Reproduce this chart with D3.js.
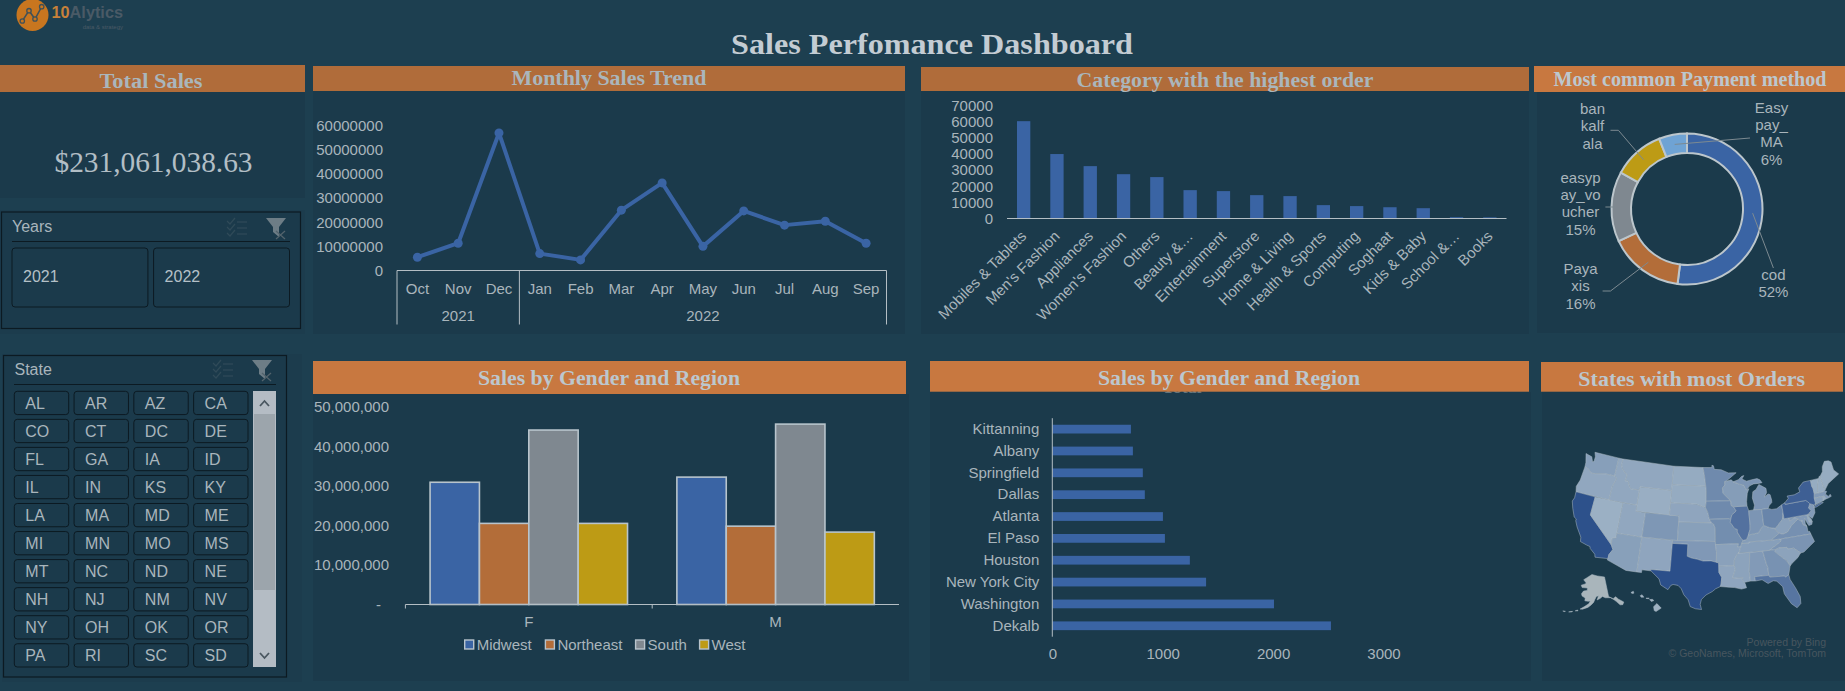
<!DOCTYPE html>
<html lang="en">
<head>
<meta charset="utf-8">
<title>Sales Perfomance Dashboard</title>
<script src="https://d3js.org/d3.v7.min.js"></script>
<style>
  html, body { margin: 0; padding: 0; background: #1d3f50; overflow: hidden; }
  svg { display: block; }
  text { font-family: "Liberation Sans", Arial, sans-serif; font-size: 15px; fill: #a9b5bc; }
  .serif { font-family: "Liberation Serif", Georgia, serif; }
  .domain { stroke: #b4bec4; }
</style>
</head>
<body>
<script>
// monthly sales
const months = ["Oct","Nov","Dec","Jan","Feb","Mar","Apr","May","Jun","Jul","Aug","Sep"];
const monthlySales = [5500000,11300000,57000000,7000000,4400000,25000000,36300000,10000000,24700000,18800000,20400000,11300000];

// category orders
const categories = ["Mobiles & Tablets","Men's Fashion","Appliances","Women's Fashion","Others","Beauty &…","Entertainment","Superstore","Home & Living","Health & Sports","Computing","Soghaat","Kids & Baby","School &…","Books"];
const categoryOrders = [60400,40000,32500,27500,25700,17600,17000,14500,13900,8300,7700,7000,6400,800,700];

// payment methods
const payLabels = [["cod","52%"],["Paya","xis","16%"],["easyp","ay_vo","ucher","15%"],["ban","kalf","ala"],["Easy","pay_","MA","6%"]];
const payShare = [52,16,15,11,6];
const payColors = ["#3a64a4","#b36d39","#7f8890","#bd9b15","#6fa3d4"];

// gender and region
const genders = ["F","M"];
const regions = ["Midwest","Northeast","South","West"];
const regionColors = ["#3a64a4","#b36d39","#7f8890","#bd9b15"];
const salesF = [30900000,20500000,44100000,20500000];
const salesM = [32200000,19800000,45600000,18300000];

// cities
const cities = ["Kittanning","Albany","Springfield","Dallas","Atlanta","El Paso","Houston","New York City","Washington","Dekalb"];
const cityOrders = [712,730,820,838,1002,1020,1246,1393,2008,2524];

// slicers
const years = ["2021","2022"];
const stateButtons = ["AL","AR","AZ","CA","CO","CT","DC","DE","FL","GA","IA","ID","IL","IN","KS","KY","LA","MA","MD","ME","MI","MN","MO","MS","MT","NC","ND","NE","NH","NJ","NM","NV","NY","OH","OK","OR","PA","RI","SC","SD"];

// map: order level per state and rough lon/lat outlines
const mapStates = ["WA","OR","CA","NV","ID","MT","WY","UT","CO","AZ","NM","ND","SD","NE","KS","OK","TX","MN","IA","MO","AR","LA","MS","AL","TN","KY","IL","WI","MI","IN","OH","WV","VA","MD","DC","DE","NJ","PA","NY","VT","NH","ME","MA","RI","CT","NC","SC","GA","FL","AK","HI"];
const mapOrders = [26,18,98,10,18,18,12,18,33,25,20,15,15,20,25,32,100,45,45,42,24,20,22,30,26,28,68,28,35,35,50,24,40,30,15,16,30,82,85,14,14,14,30,14,25,36,22,38,65,0,8];
const mapRings = [
  [[[-124.7,48.4],[-123.2,48.15],[-122.7,47.4],[-122.4,47.5],[-122.4,48.3],[-122.8,49],[-117.03,49],[-117.04,46],[-118.98,46],[-121.2,45.65],[-122.3,45.55],[-122.8,45.9],[-123.4,46.2],[-124,46.25],[-124.1,47]]],
  [[[-124,46.25],[-123.4,46.2],[-122.8,45.9],[-122.3,45.55],[-121.2,45.65],[-118.98,46],[-117.04,46],[-116.92,45.99],[-116.46,45.6],[-117,44.3],[-117.03,42],[-124.2,42],[-124.5,42.85],[-124.1,44]]],
  [[[-124.2,42],[-120,42],[-120,39],[-114.63,35],[-114.15,34.3],[-114.7,33.4],[-114.72,32.72],[-117.12,32.53],[-117.3,33],[-118.4,33.75],[-118.5,34.03],[-119.2,34.15],[-120.5,34.45],[-120.65,35.15],[-121.9,36.6],[-122.5,37.5],[-122.5,37.8],[-123,38],[-123.8,39.3],[-124.35,40.4],[-124.1,41]]],
  [[[-120,42],[-114.04,42],[-114.04,36.2],[-114.75,36.1],[-114.63,35],[-120,39]]],
  [[[-117.03,49],[-116.05,49],[-116.05,48],[-115.7,47.45],[-114.7,46.7],[-114.35,46.65],[-114.5,45.55],[-113.9,45.65],[-113.45,44.95],[-113,44.45],[-111.05,44.48],[-111.05,42],[-117.03,42],[-117,44.3],[-116.46,45.6],[-116.92,45.99],[-117.04,46]]],
  [[[-116.05,49],[-104.05,49],[-104.05,45],[-111.05,45],[-111.05,44.48],[-113,44.45],[-113.45,44.95],[-113.9,45.65],[-114.5,45.55],[-114.35,46.65],[-114.7,46.7],[-115.7,47.45],[-116.05,48]]],
  [[[-111.05,45],[-104.05,45],[-104.05,41],[-111.05,41]]],
  [[[-114.04,42],[-111.05,42],[-111.05,41],[-109.05,41],[-109.05,37],[-114.04,37]]],
  [[[-109.05,41],[-102.05,41],[-102.05,37],[-109.05,37]]],
  [[[-114.04,37],[-109.05,37],[-109.05,31.33],[-111.07,31.33],[-114.81,32.5],[-114.72,32.72],[-114.7,33.4],[-114.15,34.3],[-114.63,35],[-114.75,36.1],[-114.04,36.2]]],
  [[[-109.05,37],[-103,37],[-103.04,32],[-106.62,32],[-106.53,31.78],[-108.2,31.78],[-108.2,31.33],[-109.05,31.33]]],
  [[[-104.05,49],[-97.23,49],[-96.85,47.6],[-96.56,45.94],[-104.05,45.94]]],
  [[[-104.05,45.94],[-96.56,45.94],[-96.45,45.3],[-96.45,43.5],[-96.6,42.5],[-97.9,42.8],[-98.5,43],[-104.05,43]]],
  [[[-104.05,43],[-98.5,43],[-97.9,42.8],[-96.6,42.5],[-96.1,41.7],[-95.9,41],[-95.77,40.58],[-95.31,40],[-102.05,40],[-102.05,41],[-104.05,41]]],
  [[[-102.05,40],[-95.31,40],[-94.9,39.8],[-94.6,39.1],[-94.62,37],[-102.05,37]]],
  [[[-103,37],[-94.62,37],[-94.43,35.4],[-94.48,33.64],[-95.5,33.88],[-97,33.85],[-98.1,34.13],[-99.2,34.3],[-100,34.56],[-100,36.5],[-103,36.5]]],
  [[[-106.62,32],[-103.04,32],[-103,36.5],[-100,36.5],[-100,34.56],[-99.2,34.3],[-98.1,34.13],[-97,33.85],[-95.5,33.88],[-94.48,33.64],[-94.04,33.55],[-94.04,33],[-94.04,31.99],[-93.55,31.2],[-93.7,30.1],[-93.85,29.7],[-94.7,29.35],[-95.3,28.9],[-96.4,28.35],[-97.2,27.6],[-97.4,26.8],[-97.15,25.96],[-98.2,26.07],[-99.1,26.4],[-99.5,27.5],[-100.3,28.3],[-100.8,29.25],[-101.4,29.77],[-102.3,29.88],[-102.7,29.7],[-103.15,28.98],[-104.5,29.65],[-104.9,30.6],[-106.53,31.78]]],
  [[[-97.23,49],[-95.15,49],[-95.15,49.38],[-94.8,49.3],[-94.6,48.7],[-93,48.6],[-91.4,48.05],[-89.6,48],[-92,46.7],[-92.3,46.66],[-92.3,46.1],[-92.85,45.6],[-92.75,44.75],[-91.2,43.5],[-96.45,43.5],[-96.45,45.3],[-96.56,45.94],[-96.85,47.6]]],
  [[[-96.45,43.5],[-91.2,43.5],[-91.1,42.7],[-90.64,42.5],[-90.15,41.8],[-91.1,41.2],[-91.42,40.38],[-91.73,40.61],[-95.77,40.58],[-95.9,41],[-96.1,41.7],[-96.6,42.5]]],
  [[[-95.77,40.58],[-91.73,40.61],[-91.42,40.38],[-91.5,40],[-90.7,39],[-90.15,38.8],[-90.2,38.4],[-89.5,37.3],[-89.15,37],[-89.5,36.5],[-89.7,36],[-90.37,36],[-90.15,36.5],[-94.62,36.5],[-94.62,37],[-94.6,39.1],[-94.9,39.8],[-95.31,40]]],
  [[[-94.62,36.5],[-90.15,36.5],[-90.37,36],[-89.7,36],[-90.1,35.1],[-90.6,34.7],[-91.1,33.9],[-91.17,33],[-94.04,33],[-94.04,33.55],[-94.48,33.64],[-94.43,35.4]]],
  [[[-94.04,33],[-91.17,33],[-91,32.4],[-91.6,31],[-89.73,31],[-89.85,30.65],[-89.55,30.2],[-89.4,30.05],[-89.2,29.3],[-90.1,29.15],[-91.3,29.45],[-92.3,29.55],[-93.85,29.7],[-93.7,30.1],[-93.55,31.2],[-94.04,31.99]]],
  [[[-90.3,35],[-88.2,35],[-88.1,34.9],[-88.47,31.9],[-88.4,30.35],[-89.55,30.2],[-89.85,30.65],[-89.73,31],[-91.6,31],[-91,32.4],[-91.17,33],[-91.1,33.9],[-90.6,34.7],[-90.1,35.1]]],
  [[[-88.2,35],[-85.6,35],[-85.18,32.87],[-85,32.3],[-85,31],[-87.6,31],[-87.5,30.3],[-88.4,30.35],[-88.47,31.9],[-88.1,34.9]]],
  [[[-89.5,36.5],[-88.05,36.5],[-88.07,36.68],[-83.68,36.6],[-81.68,36.59],[-82,36.1],[-84.32,35],[-85.6,35],[-88.2,35],[-90.3,35],[-90.1,35.1],[-89.7,36]]],
  [[[-89.15,37],[-89.5,36.5],[-88.05,36.5],[-88.07,36.68],[-83.68,36.6],[-81.97,37.54],[-82.6,38.17],[-82.6,38.41],[-83.7,38.65],[-84.8,39.1],[-85.4,38.7],[-86,38],[-87,37.9],[-88.05,37.8],[-88.5,37.1]]],
  [[[-90.64,42.5],[-87.8,42.5],[-87.53,41.7],[-87.53,39.35],[-87.6,38.7],[-88.05,37.8],[-88.5,37.1],[-89.15,37],[-89.5,37.3],[-90.2,38.4],[-90.15,38.8],[-90.7,39],[-91.5,40],[-91.42,40.38],[-91.1,41.2],[-90.15,41.8]]],
  [[[-92.3,46.66],[-92,46.7],[-90.8,46.9],[-90.4,46.55],[-89,46.1],[-88.1,45.9],[-87.8,45.35],[-87.6,45.1],[-87.05,45.25],[-87.5,44.5],[-87.8,43.2],[-87.8,42.5],[-90.64,42.5],[-91.1,42.7],[-91.2,43.5],[-92.75,44.75],[-92.85,45.6],[-92.3,46.1]]],
  [[[-86.5,41.76],[-84.8,41.7],[-83.45,41.73],[-83.1,42.2],[-82.5,42.6],[-82.45,43],[-82.6,43.9],[-83,44.05],[-83.9,43.65],[-83.3,44.3],[-83.3,45],[-84.75,45.78],[-85.5,45],[-86.25,44.7],[-86.5,43.7],[-86.2,42.5]],
   [[-90.4,46.55],[-89.2,46.85],[-88.4,47.35],[-87.9,47.45],[-88.4,46.9],[-87.4,46.5],[-86.2,46.65],[-85,46.75],[-84.4,46.5],[-84,46],[-84.8,45.95],[-85.9,45.95],[-86.8,45.7],[-87.6,45.1],[-87.8,45.35],[-88.1,45.9],[-89,46.1]]],
  [[[-87.53,41.7],[-86.5,41.76],[-84.8,41.7],[-84.8,39.1],[-85.4,38.7],[-86,38],[-87,37.9],[-88.05,37.8],[-87.6,38.7],[-87.53,39.35]]],
  [[[-84.8,41.7],[-83.45,41.73],[-82.7,41.5],[-81.7,41.5],[-80.52,42],[-80.52,40.64],[-80.85,39.7],[-81.75,39],[-82.2,38.6],[-82.6,38.41],[-83.7,38.65],[-84.8,39.1]]],
  [[[-82.6,38.41],[-82.2,38.6],[-81.75,39],[-80.85,39.7],[-80.52,40.64],[-80.52,39.72],[-79.48,39.72],[-79.48,39.2],[-78.4,39.6],[-77.72,39.32],[-78.3,39],[-79.3,38.4],[-80.3,37.5],[-81.3,37.3],[-81.97,37.54],[-82.6,38.17]]],
  [[[-83.68,36.6],[-81.68,36.59],[-75.87,36.55],[-76,37],[-76.3,37],[-76.3,37.9],[-77,38.3],[-77.04,38.8],[-77.5,39.1],[-77.72,39.32],[-78.3,39],[-79.3,38.4],[-80.3,37.5],[-81.3,37.3],[-81.97,37.54]]],
  [[[-79.48,39.72],[-75.79,39.72],[-75.7,38.46],[-75.05,38.45],[-75.25,38.03],[-75.9,37.95],[-76.2,38.6],[-76.4,39.2],[-76.5,38.4],[-76.3,37.9],[-77,38.3],[-77.04,38.8],[-77.5,39.1],[-77.72,39.32],[-78.4,39.6],[-79.48,39.2]]],
  [[[-77.12,38.93],[-77.04,39],[-76.91,38.89],[-77.04,38.79]]],
  [[[-75.79,39.72],[-75.4,39.8],[-75.55,39.45],[-75.1,38.8],[-75.05,38.45],[-75.7,38.46]]],
  [[[-74.7,41.36],[-73.9,41],[-74,40.5],[-74.1,39.75],[-74.9,38.95],[-75.5,39.5],[-75.15,40],[-74.75,40.2],[-75.2,40.7]]],
  [[[-80.52,42],[-79.76,42.27],[-79.76,42],[-75.35,42],[-75.05,41.75],[-74.7,41.36],[-75.2,40.7],[-74.75,40.2],[-75.15,40],[-75.4,39.8],[-75.79,39.72],[-80.52,39.72],[-80.52,40.64]]],
  [[[-79.76,42],[-79.76,42.27],[-78.9,42.85],[-79.05,43.26],[-77.5,43.25],[-76.2,43.55],[-76.3,44.2],[-75,45],[-73.35,45],[-73.4,44],[-73.25,43.6],[-73.27,42.75],[-73.5,42.05],[-73.5,41.3],[-73.65,41],[-73.9,41],[-74.7,41.36],[-75.05,41.75],[-75.35,42]],
   [[-74.05,40.6],[-73.75,40.85],[-72.3,41.15],[-71.9,41.05],[-73.5,40.6]]],
  [[[-73.35,45],[-71.5,45],[-72.05,44.1],[-72.45,43],[-72.46,42.73],[-73.27,42.75],[-73.25,43.6],[-73.4,44]]],
  [[[-71.5,45],[-71.3,45.3],[-71.05,45.3],[-70.98,43.4],[-70.7,43.05],[-71,42.87],[-71.3,42.7],[-72.46,42.73],[-72.45,43],[-72.05,44.1]]],
  [[[-71.05,45.3],[-70.3,45.9],[-70,46.7],[-69.2,47.45],[-68.3,47.35],[-67.8,47.05],[-67.8,45.7],[-67,44.85],[-68.5,44.3],[-69.8,43.8],[-70.7,43.05],[-70.98,43.4]]],
  [[[-73.5,42.05],[-73.27,42.75],[-72.46,42.73],[-71.3,42.7],[-71,42.87],[-70.6,42.65],[-71,42.3],[-70.55,41.8],[-70.05,42.05],[-69.95,41.7],[-70.65,41.55],[-71.12,41.5],[-71.38,42.02]]],
  [[[-71.38,42.02],[-71.8,42.02],[-71.85,41.32],[-71.12,41.5]]],
  [[[-73.5,42.05],[-71.8,42.02],[-71.85,41.32],[-73.65,41],[-73.5,41.3]]],
  [[[-84.32,35],[-82,36.1],[-81.68,36.59],[-75.87,36.55],[-75.5,35.25],[-76.5,34.7],[-77.9,33.9],[-78.55,33.86],[-79.67,34.8],[-80.8,34.82],[-80.9,35.1],[-82.4,35.2],[-83.1,35]]],
  [[[-83.1,35],[-82.4,35.2],[-80.9,35.1],[-80.8,34.82],[-79.67,34.8],[-78.55,33.86],[-79.2,33.2],[-80.5,32.4],[-80.9,32.05],[-81.4,33],[-82,33.5],[-83.35,34.7]]],
  [[[-85.6,35],[-84.32,35],[-83.1,35],[-83.35,34.7],[-82,33.5],[-81.4,33],[-80.9,32.05],[-81.4,30.7],[-82.05,30.36],[-82.2,30.57],[-84.86,30.7],[-85,31],[-85,32.3],[-85.18,32.87]]],
  [[[-87.6,31],[-85,31],[-84.86,30.7],[-82.2,30.57],[-82.05,30.36],[-81.4,30.7],[-81.3,29.9],[-80.6,28.4],[-80.05,26.9],[-80.15,25.75],[-80.9,25.15],[-81.75,25.95],[-82.7,27.7],[-82.8,28.9],[-83.7,29.9],[-84.3,30.05],[-85.3,29.7],[-86.3,30.4],[-87.5,30.3]]],
  [[[-141,69.6],[-141,60.3],[-137.5,58.9],[-135,59.5],[-133.2,58],[-130,56],[-131.5,55],[-133.5,55.3],[-135.5,57.2],[-137,58.3],[-139.5,59.6],[-144,60],[-146.5,60.8],[-148.5,60],[-151.5,59.3],[-150,61.2],[-152,60.9],[-153.5,59.5],[-154.5,58.2],[-156.5,57],[-159,55.8],[-163,54.7],[-164.8,54.6],[-162,55.9],[-158.5,57.5],[-157.3,58.8],[-159,58.6],[-162,58.7],[-162,60],[-165,60.7],[-166,61.7],[-164.5,63.1],[-161,63.6],[-161,64.7],[-166.5,64.6],[-168,65.6],[-164,66.5],[-163,67],[-166.5,68.3],[-163,69.5],[-157,71.2],[-150,70.5]],
   [[-168.2,53.4],[-166.5,54],[-166.2,53.6]],[[-172.6,52.2],[-170,52.9],[-170.2,52.6]],[[-176.8,51.8],[-175,52.1],[-175.2,51.8]]],
  [[[-156.05,19.75],[-155.5,20.25],[-154.8,19.5],[-155.65,18.95],[-155.95,19.1]],[[-156.7,20.9],[-156.25,20.95],[-156,20.75],[-156.4,20.58]],[[-158.25,21.55],[-157.95,21.7],[-157.65,21.3],[-158.1,21.3]],[[-159.8,22.05],[-159.4,22.25],[-159.3,21.95],[-159.6,21.9]],[[-157.3,21.15],[-156.75,21.15],[-156.85,21.05],[-157.25,21.08]]]
];

const w = 1845, h = 691;
const svg = d3.select("body").append("svg").attr("width", w).attr("height", h);

function box(x0, y0, x1, y1, fill) {
  return svg.append("rect").attr("x", x0).attr("y", y0).attr("width", x1 - x0).attr("height", y1 - y0).attr("fill", fill);
}

// orange band plus a title squeezed to the measured width
function header(x0, y0, x1, y1, fill, title, cx, cy, tw, tc) {
  box(x0, y0, x1, y1, fill);
  svg.append("text").attr("class", "serif").attr("x", cx).attr("y", cy).attr("dy", ".34em")
    .attr("text-anchor", "middle").attr("textLength", tw).attr("lengthAdjust", "spacingAndGlyphs")
    .style("font-size", "20px").style("font-weight", "bold").style("fill", tc).text(title);
}

function styleAxis(g) {
  g.selectAll(".domain").remove();
  g.selectAll("line").remove();
}

const panel = "#1b3a4b", orangeDim = "#b06c3a", orange = "#c87840";
const titleDim = "#aab6bc", titleLit = "#bcc7ce";

// panels
box(0, 92, 305, 198, panel);
box(0, 210, 305, 334, "#1c3c4d");
box(313, 91, 905, 334, panel);
box(921, 91, 1529, 334, panel);
box(1537, 92, 1845, 333, panel);
box(2, 354, 302, 682, "#1c3c4d");
box(313, 394, 909, 681, panel);
box(930, 392, 1531, 681, panel);
box(1542, 392, 1845, 681, panel);

// logo
const logoNodes = [[22.3,21],[29,10.7],[35,19],[41.7,6.7]];
svg.append("ellipse").attr("cx", 32.5).attr("cy", 15).attr("rx", 16).attr("ry", 16).attr("fill", "#c8761f");
svg.append("path").attr("d", d3.line()(logoNodes)).attr("fill", "none").attr("stroke", "#3f5159").attr("stroke-width", 1.5);
svg.selectAll(".node").data(logoNodes).enter().append("circle").attr("cx", d => d[0]).attr("cy", d => d[1])
  .attr("r", 2.2).attr("fill", "#c8761f").attr("stroke", "#3f5159").attr("stroke-width", 1.3);
const logo = svg.append("text").attr("x", 51.5).attr("y", 18.3).attr("textLength", 71.5).attr("lengthAdjust", "spacingAndGlyphs").style("font-size", "16px").style("font-weight", "bold");
logo.append("tspan").style("fill", "#c8813a").text("10");
logo.append("tspan").style("fill", "#4a5a66").text("Alytics");
svg.append("text").attr("x", 123).attr("y", 28.5).attr("text-anchor", "end").style("font-size", "6px").style("fill", "#4a5a66").text("data & strategy");

// title
svg.append("text").attr("class", "serif").attr("x", 932).attr("y", 44).attr("dy", ".34em").attr("text-anchor", "middle")
  .attr("textLength", 402).attr("lengthAdjust", "spacingAndGlyphs")
  .style("font-size", "30px").style("font-weight", "bold").style("fill", "#c3ccd3").text("Sales Perfomance Dashboard");

// total sales
header(0, 65, 305, 92, orangeDim, "Total Sales", 151, 81, 103, titleDim);
svg.append("text").attr("class", "serif").attr("x", 153.5).attr("y", 162).attr("dy", ".34em").attr("text-anchor", "middle")
  .attr("textLength", 198).attr("lengthAdjust", "spacingAndGlyphs").style("font-size", "29px").style("fill", "#b2bec5").text("$231,061,038.63");

// slicer icons
function slicerIcons(cx, fx, y) {
  const ck = svg.append("g").attr("transform", `translate(${cx},${y})`).attr("stroke", "#2f4a58").attr("fill", "none").attr("stroke-width", 1.3);
  [2, 8, 14].forEach(d => {
    ck.append("path").attr("d", `M0 ${d + 1}l3 3l5 -6`);
    ck.append("path").attr("d", `M10 ${d + 2}h10`);
  });
  const fl = svg.append("g").attr("transform", `translate(${fx},${y})`);
  fl.append("path").attr("d", "M0 0h20l-7 9v10l-6 -5v-5z").attr("fill", "#6d7d86");
  fl.append("path").attr("d", "M10 13l9 8M19 13l-9 8").attr("stroke", "#53636c").attr("stroke-width", 1.3);
}

// years slicer
box(1.5, 212, 300.5, 328.5, panel).attr("stroke", "#0c1a22").attr("stroke-width", 1.2);
svg.append("text").attr("x", 12).attr("y", 227).attr("dy", ".34em").style("font-size", "16px").text("Years");
svg.append("line").attr("x1", 12).attr("x2", 290).attr("y1", 241.5).attr("y2", 241.5).attr("stroke", "#0c1a22");
slicerIcons(227, 266, 218);
const yearX = d3.scaleBand().domain(years).range([12, 289.5]).paddingInner(0.04);
years.forEach(y => {
  box(yearX(y), 248, yearX(y) + yearX.bandwidth(), 307, panel).attr("rx", 3).attr("stroke", "#0c1a22").attr("stroke-width", 1);
  svg.append("text").attr("x", yearX(y) + 11).attr("y", 277).attr("dy", ".34em").style("font-size", "16px").style("fill", "#b4c0c7").text(y);
});

// state slicer
box(3.5, 355.5, 286.5, 677, panel).attr("stroke", "#0c1a22").attr("stroke-width", 1.2);
svg.append("text").attr("x", 14.5).attr("y", 369.5).attr("dy", ".34em").style("font-size", "16px").text("State");
svg.append("line").attr("x1", 14).attr("x2", 276).attr("y1", 384.5).attr("y2", 384.5).attr("stroke", "#0c1a22");
slicerIcons(213, 252, 360);
const colX = d3.scaleBand().domain(d3.range(4)).range([14.3, 248]).paddingInner(0.09);
const rowY = d3.scaleBand().domain(d3.range(10)).range([391.3, 667]).paddingInner(0.17);
svg.selectAll(".stateBtn").data(stateButtons).enter().append("rect").attr("class", "stateBtn")
  .attr("x", (d, i) => colX(i % 4)).attr("y", (d, i) => rowY(Math.floor(i / 4)))
  .attr("width", colX.bandwidth()).attr("height", rowY.bandwidth()).attr("rx", 3)
  .attr("fill", panel).attr("stroke", "#0c1a22").attr("stroke-width", 1);
svg.selectAll(".stateTxt").data(stateButtons).enter().append("text").attr("class", "stateTxt")
  .attr("x", (d, i) => colX(i % 4) + 11).attr("y", (d, i) => rowY(Math.floor(i / 4)) + rowY.bandwidth() / 2).attr("dy", ".35em")
  .style("font-size", "16px").text(d => d);
box(253, 391, 276, 667, "#b4bcc4");
box(254, 414, 275, 590, "#9ca5ac");
svg.append("path").attr("d", "M260 406l4.5 -5l4.5 5M260 653l4.5 5l4.5 -5").attr("fill", "none").attr("stroke", "#4a5760").attr("stroke-width", 1.8);

// monthly trend
header(313, 66, 905, 91, orangeDim, "Monthly Sales Trend", 609, 78, 195, titleDim);
const xMonth = d3.scaleBand().domain(months).range([397, 886.5]);
const yMonth = d3.scaleLinear().domain([0, 60000000]).range([270.5, 125.7]);
svg.append("g").attr("transform", "translate(383,0)")
  .call(d3.axisLeft(yMonth).ticks(6).tickFormat(d3.format("d")).tickSize(0).tickPadding(0)).call(styleAxis)
  .selectAll("text").style("font-size", "15px");
svg.append("g").attr("transform", "translate(0,288.7)")
  .call(d3.axisBottom(xMonth).tickSize(0).tickPadding(0)).call(styleAxis)
  .selectAll("text").attr("dy", ".34em").attr("y", 0).style("font-size", "15px");
svg.append("line").attr("x1", 397).attr("x2", 886.5).attr("y1", 270.5).attr("y2", 270.5).attr("stroke", "#b4bec4");
[397, xMonth("Jan"), 886.5].forEach(x => {
  svg.append("line").attr("x1", x).attr("x2", x).attr("y1", 270.5).attr("y2", 324.5).attr("stroke", "#b4bec4");
});
svg.append("text").attr("x", xMonth("Nov") + xMonth.bandwidth() / 2).attr("y", 315.7).attr("dy", ".34em").attr("text-anchor", "middle").text("2021");
svg.append("text").attr("x", xMonth("May") + xMonth.bandwidth() / 2).attr("y", 315.7).attr("dy", ".34em").attr("text-anchor", "middle").text("2022");
const monthLine = d3.line().x((d, i) => xMonth(months[i]) + xMonth.bandwidth() / 2).y(d => yMonth(d));
svg.append("path").datum(monthlySales).attr("d", monthLine).attr("fill", "none").attr("stroke", "#3a64a4").attr("stroke-width", 4).attr("stroke-linejoin", "round");
svg.selectAll(".monthDot").data(monthlySales).enter().append("circle").attr("class", "monthDot")
  .attr("cx", (d, i) => xMonth(months[i]) + xMonth.bandwidth() / 2).attr("cy", d => yMonth(d)).attr("r", 4.5).attr("fill", "#3a64a4");

// category orders
header(921, 67, 1529, 91, orangeDim, "Category with the highest order", 1225, 80, 297, titleDim);
const xCat = d3.scaleBand().domain(categories).range([1007, 1506.5]).paddingInner(0.6).paddingOuter(0.3);
const yCat = d3.scaleLinear().domain([0, 70000]).range([218.5, 105.7]);
svg.append("g").attr("transform", "translate(993,0)")
  .call(d3.axisLeft(yCat).ticks(7).tickFormat(d3.format("d")).tickSize(0).tickPadding(0)).call(styleAxis)
  .selectAll("text").style("font-size", "15px");
svg.selectAll(".catBar").data(categoryOrders).enter().append("rect").attr("class", "catBar")
  .attr("x", (d, i) => xCat(categories[i])).attr("width", xCat.bandwidth())
  .attr("y", d => yCat(d)).attr("height", d => yCat(0) - yCat(d)).attr("fill", "#3a64a4");
svg.append("g").attr("transform", "translate(0,218.5)")
  .call(d3.axisBottom(xCat).tickSize(0).tickPadding(0)).call(g => g.selectAll(".domain").attr("d", "M1007,0H1506.5"))
  .selectAll("text").attr("y", 0).attr("dy", ".35em").attr("text-anchor", "end")
  .attr("transform", "translate(0,15) rotate(-45)").style("font-size", "15px");

// payment donut
header(1534, 66, 1845, 92, orange, "Most common Payment method", 1690, 79, 273, titleLit);
const donutX = 1687, donutY = 209;
const pie = d3.pie().sort(null)(payShare);
const arc = d3.arc().innerRadius(56).outerRadius(75.5);
const donut = svg.append("g").attr("transform", `translate(${donutX},${donutY})`);
donut.selectAll("path").data(pie).enter().append("path").attr("d", arc)
  .attr("fill", (d, i) => payColors[i]).attr("stroke", "#bcc6cc").attr("stroke-width", 2);
const payLabelAt = [[1773.4, 280], [1580.5, 274], [1580.5, 182.7], [1592.5, 114], [1771.5, 112.7]];
pie.forEach((d, i) => {
  const t = svg.append("text").attr("text-anchor", "middle").attr("x", payLabelAt[i][0]).attr("y", payLabelAt[i][1]).attr("dy", ".34em");
  payLabels[i].forEach((s, j) => t.append("tspan").attr("x", payLabelAt[i][0]).attr("dy", j ? 17.3 : 0).text(s));
});
// leader lines, ending on the ring centre of each slice
const c = pie.map(d => arc.centroid(d)).map(p => [p[0] + donutX, p[1] + donutY]);
const leaders = [
  [[1773.4, 268], c[0]],
  [[1602.6, 291], [1610.5, 291], c[1]],
  [[1605.4, 207], [1614.5, 207]],
  [[1610.5, 130.3], [1618.4, 130.3], c[3]],
  [[1750, 138], c[4]]
];
svg.selectAll(".leader").data(leaders).enter().append("path").attr("class", "leader")
  .attr("d", d3.line()).attr("fill", "none").attr("stroke", "#7d8a91").attr("stroke-width", 1);

// gender and region
header(313, 361, 906, 394, orange, "Sales by Gender and Region", 609, 377.7, 262, titleLit);
const xGender = d3.scaleBand().domain(genders).range([405.4, 899]);
const xRegion = d3.scaleBand().domain(regions).range([0, xGender.bandwidth()]).paddingOuter(0.5);
const yGender = d3.scaleLinear().domain([0, 50000000]).range([604.5, 406.7]);
svg.append("g").attr("transform", "translate(389,0)")
  .call(d3.axisLeft(yGender).ticks(5).tickFormat(d => d ? d3.format(",")(d) : "-").tickSize(0).tickPadding(0)).call(styleAxis)
  .selectAll("text").style("font-size", "15px").attr("x", d => d ? 0 : -8);
[salesF, salesM].forEach((vals, g) => {
  svg.selectAll(".bar" + g).data(vals).enter().append("rect").attr("class", "bar" + g)
    .attr("x", (d, i) => xGender(genders[g]) + xRegion(regions[i])).attr("width", xRegion.bandwidth())
    .attr("y", d => yGender(d)).attr("height", d => yGender(0) - yGender(d))
    .attr("fill", (d, i) => regionColors[i]).attr("stroke", "#b8c4cc").attr("stroke-width", 1.6);
});
svg.append("line").attr("x1", 405.4).attr("x2", 899).attr("y1", 604.5).attr("y2", 604.5).attr("stroke", "#b4bec4");
[405.4, xGender("M")].forEach(x => {
  svg.append("line").attr("x1", x).attr("x2", x).attr("y1", 604.5).attr("y2", 608.5).attr("stroke", "#b4bec4");
});
svg.append("g").attr("transform", "translate(0,621.7)")
  .call(d3.axisBottom(xGender).tickSize(0).tickPadding(0)).call(styleAxis)
  .selectAll("text").attr("y", 0).attr("dy", ".34em").style("font-size", "15px");
const legendX = d3.scaleOrdinal().domain(regions).range([464.7, 545.4, 635.6, 699.6]);
regions.forEach((r, i) => {
  box(legendX(r), 640, legendX(r) + 9, 649, regionColors[i]).attr("stroke", "#b8c4cc").attr("stroke-width", 1.4);
  svg.append("text").attr("x", legendX(r) + 12).attr("y", 644.7).attr("dy", ".34em").text(r);
});

// cities, with the chart title that hides behind the band in the original
svg.append("text").attr("class", "serif").attr("x", 1182).attr("y", 392.5).attr("text-anchor", "middle").style("font-weight", "bold").style("font-size", "18px").style("fill", "#66757d").text("Total");
header(930, 361, 1529, 391.7, orange, "Sales by Gender and Region", 1229, 377.7, 262, titleLit);
const yCity = d3.scaleBand().domain(cities).range([418.2, 636.7]).paddingInner(0.6).paddingOuter(0.3);
const xCity = d3.scaleLinear().domain([0, 3000]).range([1052.3, 1383.5]);
svg.selectAll(".cityBar").data(cityOrders).enter().append("rect").attr("class", "cityBar")
  .attr("x", xCity(0)).attr("width", d => xCity(d) - xCity(0))
  .attr("y", (d, i) => yCity(cities[i])).attr("height", yCity.bandwidth()).attr("fill", "#3a64a4");
svg.append("g").attr("transform", "translate(1052.3,0)")
  .call(d3.axisLeft(yCity).tickSize(0).tickPadding(13))
  .call(g => g.selectAll(".domain").attr("d", "M0,418.2V636.7"))
  .selectAll("text").style("font-size", "15px");
svg.append("g").attr("transform", "translate(0,653.7)")
  .call(d3.axisBottom(xCity).tickValues([0, 1000, 2000, 3000]).tickFormat(d3.format("d")).tickSize(0).tickPadding(0)).call(styleAxis)
  .selectAll("text").attr("y", 0).attr("dy", ".34em").style("font-size", "15px");

// map
header(1541, 362, 1843, 391.7, orange, "States with most Orders", 1691.7, 379, 226.7, titleLit);
const mapColor = d3.scaleLinear().domain([0, 10, 100]).range(["#a9b5bb", "#9bb0c4", "#2b4f8a"]);
const projection = d3.geoAlbersUsa().scale(352).translate([1699, 531]);
const mapPath = d3.geoPath(projection);
const stateFeatures = mapStates.map((s, i) => {
  // rings may be typed either way round: d3 wants the small side filled
  const coords = mapRings[i].map(r => {
    const ring = r.concat([r[0]]);
    return d3.geoArea({ type: "Polygon", coordinates: [ring] }) > 2 * Math.PI ? [ring.slice().reverse()] : [ring];
  });
  return { type: "Feature", id: s, value: mapOrders[i], geometry: { type: "MultiPolygon", coordinates: coords } };
});
// the original's map runs a little wider than plain Albers
svg.append("g").attr("transform", "translate(1573,0) scale(1.05,1) translate(-1573,0)")
  .selectAll("path").data(stateFeatures).enter().append("path")
  .attr("d", mapPath).attr("fill", d => mapColor(d.value)).attr("stroke", "#aab8c2").attr("stroke-width", 0.5);
svg.append("text").attr("x", 1826).attr("y", 642.7).attr("dy", ".34em").attr("text-anchor", "end").style("font-size", "10.5px").style("fill", "#47565f").text("Powered by Bing");
svg.append("text").attr("x", 1826).attr("y", 653.7).attr("dy", ".34em").attr("text-anchor", "end").style("font-size", "10.5px").style("fill", "#47565f").text("© GeoNames, Microsoft, TomTom");
</script>
</body>
</html>
